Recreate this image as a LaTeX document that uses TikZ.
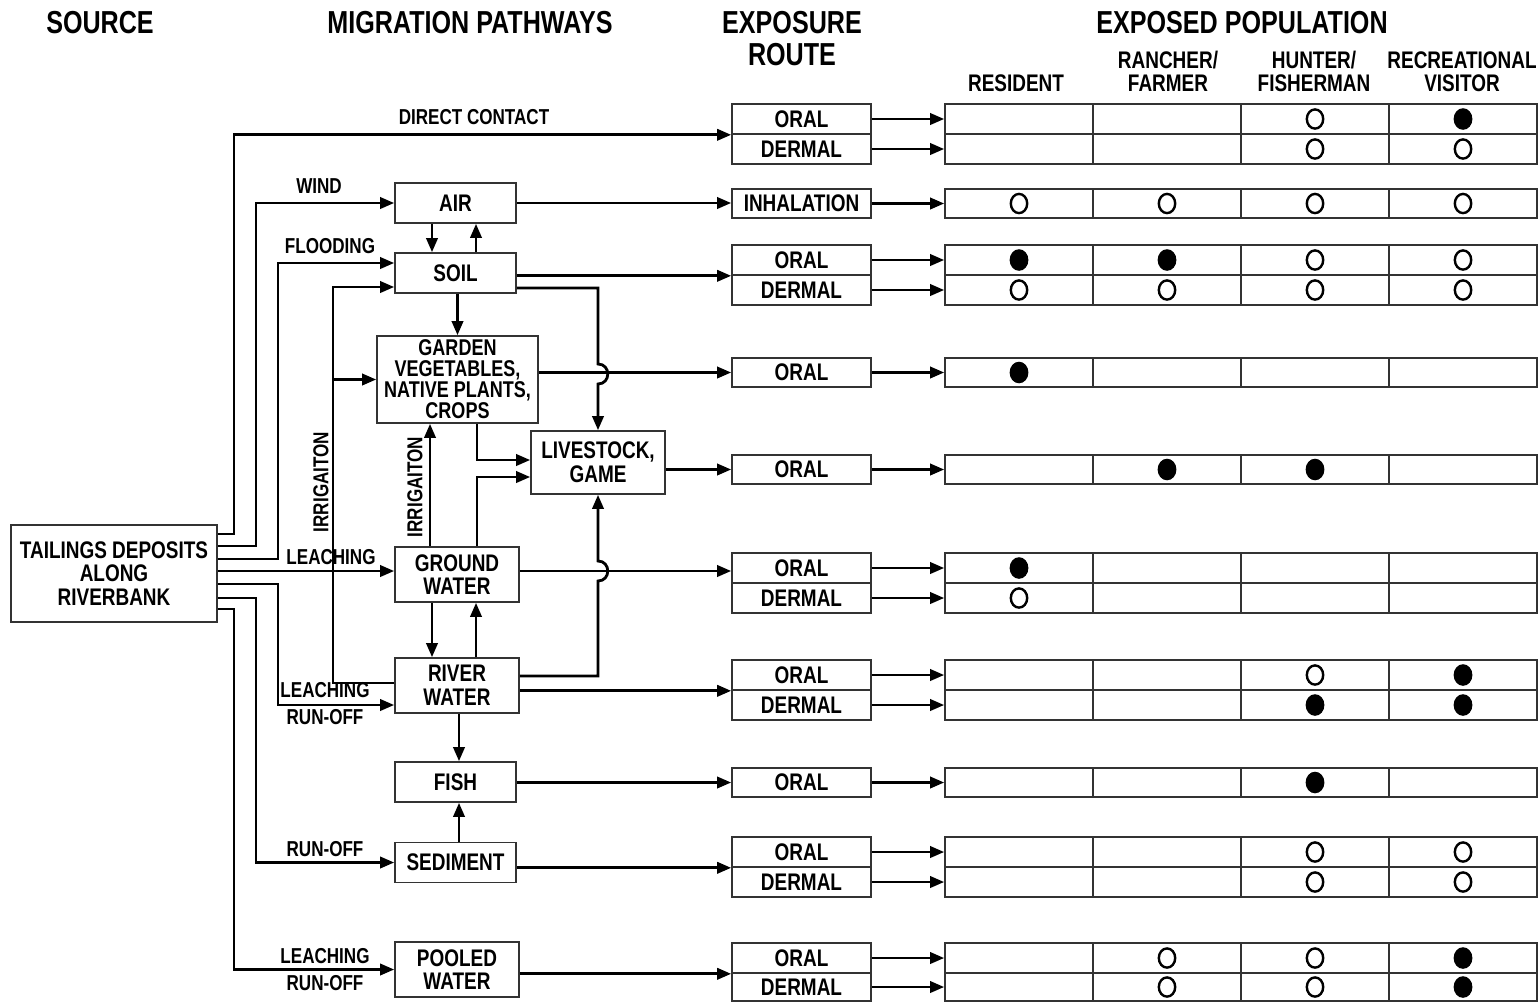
\documentclass[tikz,border=0pt]{standalone}
\usepackage{fontspec}
\setmainfont{Liberation Sans}[FakeStretch=0.79]
\usetikzlibrary{arrows.meta,calc}
\begin{document}
\begin{tikzpicture}[x=0.5pt,y=-0.5pt,
  conn/.style={line width=1.4pt,-{Triangle[length=7pt,width=5.6pt]}},
  plain/.style={line width=1.4pt},
  box/.style={draw=black!80,line width=0.8pt,align=center,inner sep=0pt,font=\bfseries\fontsize{12}{11.8}\selectfont},
  ebox/.style={box,minimum width=69.5pt},
  trow/.style={draw=black!80,line width=0.8pt,inner sep=0pt,minimum width=296pt},
  lab/.style={inner sep=0pt,font=\bfseries\fontsize{10.8}{11}\selectfont},
  ttl/.style={inner sep=0pt,align=center,font=\bfseries\fontsize{15.9}{16}\selectfont},
  hdr/.style={inner sep=0pt,align=center,font=\bfseries\fontsize{12}{11.5}\selectfont},
  odot/.style={draw,line width=1.2pt},
  fdot/.style={fill=black},
]
\fill[white] (0,0) rectangle (1540,1002);
\useasboundingbox (0,0) rectangle (1540,1002);

% titles
\node[ttl] (tsrc) at (100,23) {SOURCE};
\node[ttl] (tmig) at (470,23) {MIGRATION PATHWAYS};
\node[ttl] (texp) at (792,39) {EXPOSURE\\ROUTE};
\node[ttl] (tpop) at (1242,23) {EXPOSED POPULATION};
\node[hdr] (h1) at (1016,83) {RESIDENT};
\node[hdr] (h2) at (1168,71.5) {RANCHER/\\FARMER};
\node[hdr] (h3) at (1314,71.5) {HUNTER/\\FISHERMAN};
\node[hdr] (h4) at (1462,71.5) {RECREATIONAL\\VISITOR};

% source and migration boxes
\node[box,minimum width=103pt,minimum height=48.5pt] (src) at (114,573.5) {TAILINGS DEPOSITS\\ALONG\\RIVERBANK};
\node[box,minimum width=60.5pt,minimum height=20pt] (air) at (455.5,203) {AIR};
\node[box,minimum width=60.5pt,minimum height=20pt] (soil) at (455.5,273) {SOIL};
\node[box,minimum width=80.5pt,minimum height=43.5pt,font=\bfseries\fontsize{11.4}{10.5}\selectfont] (garden) at (457.5,379.5) {GARDEN\\VEGETABLES,\\NATIVE PLANTS,\\CROPS};
\node[box,minimum width=67pt,minimum height=31.5pt] (live) at (598,462.5) {LIVESTOCK,\\GAME};
\node[box,minimum width=62pt,minimum height=27.5pt] (gw) at (457,574.5) {GROUND\\WATER};
\node[box,minimum width=62pt,minimum height=27.5pt] (rw) at (457,685.5) {RIVER\\WATER};
\node[box,minimum width=60.5pt,minimum height=20pt] (fish) at (455.5,782) {FISH};
\node[box,minimum width=60.5pt,minimum height=20pt] (sed) at (455.5,862.5) {SEDIMENT};
\node[box,minimum width=62pt,minimum height=27.5pt] (pool) at (457,969.5) {POOLED\\WATER};

% exposure route boxes
\node[ebox,minimum height=15pt] (e1o) at (801.5,119) {ORAL};
\node[ebox,minimum height=15pt] (e1d) at (801.5,149) {DERMAL};
\node[ebox,minimum height=14.5pt] (e2) at (801.5,203.5) {INHALATION};
\node[ebox,minimum height=15pt] (e3o) at (801.5,260) {ORAL};
\node[ebox,minimum height=15pt] (e3d) at (801.5,290) {DERMAL};
\node[ebox,minimum height=14.5pt] (e4) at (801.5,372.5) {ORAL};
\node[ebox,minimum height=14.5pt] (e5) at (801.5,469.5) {ORAL};
\node[ebox,minimum height=15pt] (e6o) at (801.5,568) {ORAL};
\node[ebox,minimum height=15pt] (e6d) at (801.5,598) {DERMAL};
\node[ebox,minimum height=15pt] (e7o) at (801.5,675) {ORAL};
\node[ebox,minimum height=15pt] (e7d) at (801.5,705) {DERMAL};
\node[ebox,minimum height=14.5pt] (e8) at (801.5,782.5) {ORAL};
\node[ebox,minimum height=15pt] (e9o) at (801.5,852) {ORAL};
\node[ebox,minimum height=15pt] (e9d) at (801.5,882) {DERMAL};
\node[ebox,minimum height=15pt] (e10o) at (801.5,958) {ORAL};
\node[ebox,minimum height=14pt] (e10d) at (801.5,987) {DERMAL};

% table rows
\node[trow,minimum height=15pt] (t1o) at (1241,119) {};
\node[trow,minimum height=15pt] (t1d) at (1241,149) {};
\node[trow,minimum height=14.5pt] (t2) at (1241,203.5) {};
\node[trow,minimum height=15pt] (t3o) at (1241,260) {};
\node[trow,minimum height=15pt] (t3d) at (1241,290) {};
\node[trow,minimum height=14.5pt] (t4) at (1241,372.5) {};
\node[trow,minimum height=14.5pt] (t5) at (1241,469.5) {};
\node[trow,minimum height=15pt] (t6o) at (1241,568) {};
\node[trow,minimum height=15pt] (t6d) at (1241,598) {};
\node[trow,minimum height=15pt] (t7o) at (1241,675) {};
\node[trow,minimum height=15pt] (t7d) at (1241,705) {};
\node[trow,minimum height=14.5pt] (t8) at (1241,782.5) {};
\node[trow,minimum height=15pt] (t9o) at (1241,852) {};
\node[trow,minimum height=15pt] (t9d) at (1241,882) {};
\node[trow,minimum height=15pt] (t10o) at (1241,958) {};
\node[trow,minimum height=14pt] (t10d) at (1241,987) {};
\foreach \r in {t1o,t1d,t2,t3o,t3d,t4,t5,t6o,t6d,t7o,t7d,t8,t9o,t9d,t10o,t10d}
  \foreach \x in {1093,1241,1389}
    \draw[draw=black!80,line width=0.8pt] (\x,0 |- \r.north) -- (\x,0 |- \r.south);

% exposure -> table arrows
\foreach \n in {1o,1d,2,3o,3d,4,5,6o,6d,7o,7d,8,9o,9d,10o,10d}
  \draw[conn] (e\n.east) -- (t\n.west);

% dots
\foreach \r/\c in {t1o/4,t3o/1,t3o/2,t4/1,t5/2,t5/3,t6o/1,t7o/4,t7d/3,t7d/4,t8/3,t10o/4,t10d/4}{
  \pgfmathsetmacro\xx{871+148*\c}
  \fill[fdot] (\xx,0 |- \r.center) ellipse [x radius=4.7pt,y radius=5.4pt];
}
\foreach \r/\c in {t1o/3,t1d/3,t1d/4,t2/1,t2/2,t2/3,t2/4,t3o/3,t3o/4,t3d/1,t3d/2,t3d/3,t3d/4,t6d/1,t7o/3,t9o/3,t9o/4,t9d/3,t9d/4,t10o/2,t10o/3,t10d/2,t10d/3}{
  \pgfmathsetmacro\xx{871+148*\c}
  \draw[odot] (\xx,0 |- \r.center) ellipse [x radius=4.1pt,y radius=4.8pt];
}

% source pathways
\draw[conn] (src.east |- 0,534) -- (234,534) |- (e1o.south west);
\draw[conn] (src.east |- 0,546) -- (256,546) |- (air.west);
\draw[conn] (src.east |- 0,559) -- (278,559) |- ($(soil.west)+(0,-10)$);
\draw[conn] (src.east |- 0,571) -- (gw.west |- 0,571);
\draw[conn] (src.east |- 0,584) -- (278,584) |- ($(rw.west)+(0,19.5)$);
\draw[conn] (src.east |- 0,598) -- (256,598) |- (sed.west);
\draw[conn] (src.east |- 0,609) -- (234,609) |- (pool.west);

% labels
\node[lab] (ldc) at (474,117) {DIRECT CONTACT};
\node[lab] (lwind) at (319,186) {WIND};
\node[lab] (lflood) at (330,246) {FLOODING};
\node[lab] (lleach) at (331,557) {LEACHING};
\node[lab] (lleach2) at (325,690) {LEACHING};
\node[lab] (lrun2) at (325,717) {RUN-OFF};
\node[lab] (lrun3) at (325,849) {RUN-OFF};
\node[lab] (lleach4) at (325,956) {LEACHING};
\node[lab] (lrun4) at (325,983) {RUN-OFF};
\node[lab,rotate=90] (lirr1) at (321,482) {IRRIGAITON};
\node[lab,rotate=90] (lirr2) at (415,487) {IRRIGAITON};

% irrigation from river water
\draw[conn] ($(rw.west)+(0,-2.5)$) -- (333,683) |- ($(soil.west)+(0,14)$);
\draw[conn] (garden.west -| 333,0) -- (garden.west);

% internal migration
\draw[conn] ($(air.south)+(-23.5,0)$) -- ($(soil.north)+(-23.5,0)$);
\draw[conn] ($(soil.north)+(20.5,0)$) -- ($(air.south)+(20.5,0)$);
\draw[conn] (soil.south -| garden.north) -- (garden.north);
\draw[conn] ($(gw.north)+(-27,0)$) -- ($(garden.south)+(-27.5,0)$);
\draw[conn] ($(garden.south)+(19.5,0)$) |- ($(live.west)+(0,-2.5)$);
\draw[conn] ($(gw.north)+(20,0)$) |- ($(live.west)+(0,14.5)$);
\draw[conn] ($(gw.south)+(-25,0)$) -- ($(rw.north)+(-25,0)$);
\draw[conn] ($(rw.north)+(19,0)$) -- ($(gw.south)+(19,0)$);
\draw[conn] ($(rw.south)+(2,0)$) -- ($(fish.north)+(3.5,0)$);
\draw[conn] ($(sed.north)+(3.5,0)$) -- ($(fish.south)+(3.5,0)$);
\draw[conn] ($(soil.east)+(0,15)$) -- (598,288) -- (598,364) .. controls (611,364) and (611,384) .. (598,384) -- (live.north);
\draw[conn] ($(rw.east)+(0,-9.5)$) -| (598,581) .. controls (611,581) and (611,561) .. (598,561) -- (live.south);

% migration -> exposure route
\draw[conn] (air.east) -- (air.east -| e2.west);
\draw[conn] (soil.east |- e3o.south west) -- (e3o.south west);
\draw[conn] (garden.east |- e4.west) -- (e4.west);
\draw[conn] (live.east |- e5.west) -- (e5.west);
\draw[conn] (gw.east |- 0,571) -- (e6o.west |- 0,571);
\draw[conn] (rw.east |- e7o.south west) -- (e7o.south west);
\draw[conn] (fish.east |- e8.west) -- (e8.west);
\draw[conn] (sed.east |- e9o.south west) -- (e9o.south west);
\draw[conn] (pool.east |- e10o.south west) -- (e10o.south west);
\end{tikzpicture}
\end{document}
